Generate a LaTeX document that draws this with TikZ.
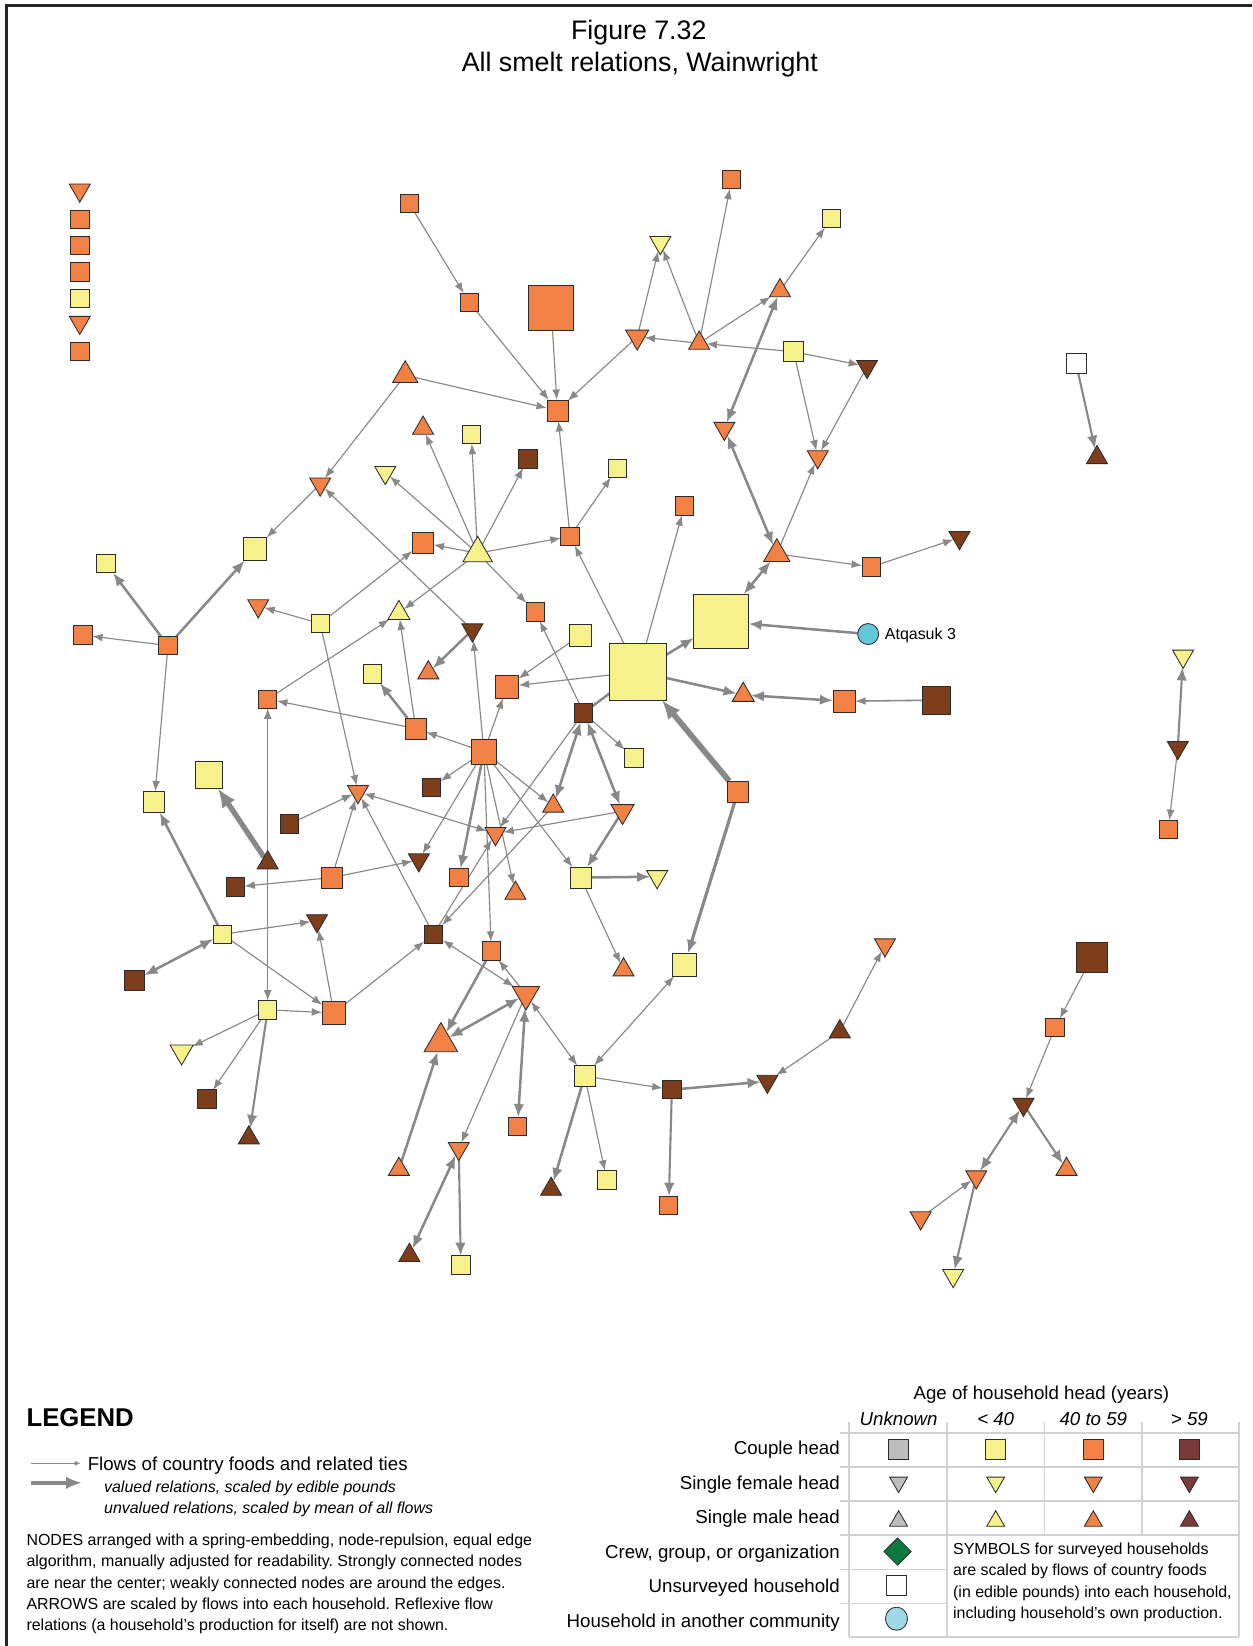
\documentclass[tikz,border=0pt]{standalone}
\usepackage{fontspec}
\setmainfont{Liberation Sans}
\usetikzlibrary{arrows.meta,shapes.geometric,backgrounds}
\frenchspacing

\definecolor{orng}{HTML}{F28145}
\definecolor{ylw}{HTML}{F6F18A}
\definecolor{brwn}{HTML}{7F3E1B}
\definecolor{edgegray}{HTML}{888888}
\definecolor{outline}{HTML}{2B2B2B}
\definecolor{atqblue}{HTML}{62C7D7}
\definecolor{framecol}{HTML}{262626}
\definecolor{gridgray}{HTML}{D2D2D2}
\definecolor{keygray}{HTML}{BDBDBD}
\definecolor{keymaroon}{HTML}{7B3A3A}
\definecolor{keygreen}{HTML}{0E7A3E}
\definecolor{keyblue}{HTML}{9ED8E4}

\newcommand\fsTitle{\fontsize{25.5}{30}\selectfont}
\newcommand\fsBig{\fontsize{17.8}{21}\selectfont}
\newcommand\fsNote{\fontsize{15.2}{18}\selectfont}
\newcommand\fsHead{\fontsize{24.5}{29}\selectfont\bfseries}

\tikzset{
  hh/.style={draw=outline, line width=0.8pt, inner sep=0pt, outer sep=0pt},
  sq/.style={hh, rectangle, minimum size=#1},
  sq/.default=17.5,
  up/.style={hh, regular polygon, regular polygon sides=3,
             minimum size={1.1547*#1}, yshift={-0.1443*#1}},
  up/.default=20,
  dn/.style={hh, regular polygon, regular polygon sides=3, shape border rotate=180,
             minimum size={1.1547*#1}, yshift={0.1443*#1}},
  dn/.default=20,
  flowthin/.style={draw=edgegray, line width=1.1pt, -{Latex[length=10pt,width=7.5pt]}},
  flowthinb/.style={draw=edgegray, line width=1.1pt, {Latex[length=10pt,width=7.5pt]}-{Latex[length=10pt,width=7.5pt]}},
  flowmid/.style={draw=edgegray, line width=2.4pt, -{Latex[length=12.5pt,width=10pt]}},
  flowmidb/.style={draw=edgegray, line width=2.4pt, {Latex[length=12.5pt,width=10pt]}-{Latex[length=12.5pt,width=10pt]}},
  flowheavy/.style={draw=edgegray, line width=5.5pt, -{Latex[length=18pt,width=15pt]}},
  grid/.style={draw=gridgray, line width=1.6pt},
  txt/.style={inner sep=0pt, outer sep=0pt},
  rowlbl/.style={txt, anchor=base east, font=\fsBig},
  colhd/.style={txt, anchor=base, font=\fsBig\itshape},
  notetxt/.style={txt, anchor=base west, font=\fsNote},
}

\begin{document}
\begin{tikzpicture}[x=1pt,y=-1pt]
\useasboundingbox (0,0) rectangle (1193,1568);

% frame
\draw[line width=3pt, framecol] (1193,5) -- (6,5) -- (6,1568);

% title
\node[txt, anchor=base, font=\fsTitle] (ttl1) at (608.5,37.5) {Figure 7.32};
\node[txt, anchor=base, font=\fsTitle] (ttl2) at (609.5,67.7) {All smelt relations, Wainwright};

% isolates
\node[dn, fill=orng] (k1) at (76,184) {};
\node[sq, fill=orng] (k2) at (76,209) {};
\node[sq, fill=orng] (k3) at (76,234) {};
\node[sq, fill=orng] (k4) at (76,259) {};
\node[sq, fill=ylw]  (k5) at (76,284) {};
\node[dn, fill=orng] (k6) at (76,310) {};
\node[sq, fill=orng] (k7) at (76,335) {};

% households
\node[sq, fill=orng] (A) at (390,194) {};
\node[sq, fill=orng] (J) at (697,171) {};
\node[sq, fill=ylw] (L) at (792,208) {};
\node[dn, fill=ylw] (I) at (629,234) {};
\node[up, fill=orng] (K) at (743,274) {};
\node[sq, fill=orng] (B) at (447,288) {};
\node[sq=43, fill=orng] (C) at (525,293) {};
\node[dn=22, fill=orng] (F) at (607,324) {};
\node[up, fill=orng] (H) at (666,324) {};
\node[sq=19, fill=ylw] (M) at (756,335) {};
\node[dn, fill=brwn] (N) at (826,352) {};
\node[up=24, fill=orng] (E) at (386,354) {};
\node[sq=20, fill=orng] (D) at (531,391) {};
\node[up, fill=orng] (AL) at (403,405) {};
\node[sq, fill=ylw] (AM) at (449,414) {};
\node[dn, fill=orng] (P) at (690,411) {};
\node[sq, fill=brwn] (AN) at (503,437) {};
\node[dn, fill=orng] (O) at (779,438) {};
\node[sq, fill=ylw] (AS) at (588,446) {};
\node[dn, fill=ylw] (AO) at (367,453) {};
\node[dn, fill=orng] (AD) at (305,464) {};
\node[sq, fill=orng] (V) at (652,482) {};
\node[sq, fill=orng] (G) at (543,511) {};
\node[sq=20, fill=orng] (AP) at (403,517) {};
\node[up=28, fill=ylw] (AK) at (455,523) {};
\node[sq=22, fill=ylw] (AE) at (243,523) {};
\node[up=25, fill=orng] (Q) at (740,524) {};
\node[dn, fill=brwn] (S) at (914,515) {};
\node[sq, fill=orng] (R) at (830,540) {};
\node[sq, fill=ylw] (AG) at (101,537) {};
\node[dn, fill=orng] (AU) at (246,580) {};
\node[up=21, fill=ylw] (AQ) at (380,581) {};
\node[sq, fill=orng] (AR) at (510,583) {};
\node[sq=52, fill=ylw] (T) at (687,592) {};
\node[sq, fill=ylw] (AT) at (305,594) {};
\node[dn, fill=brwn] (AJ) at (450,603) {};
\node[circle, hh, fill=atqblue, minimum size=20] (Atq) at (827,604) {};
\node[sq, fill=orng] (AH) at (79,605) {};
\node[sq=21, fill=ylw] (DC) at (553,605) {};
\node[sq, fill=orng] (AF) at (160,615) {};
\node[up, fill=orng] (BN) at (408,638) {};
\node[sq=54, fill=ylw] (U) at (608,640) {};
\node[sq, fill=ylw] (AY) at (355,642) {};
\node[sq=22, fill=orng] (Z) at (483,654) {};
\node[up=21, fill=orng] (W) at (708,659) {};
\node[sq, fill=orng] (AW) at (255,666) {};
\node[sq=21, fill=orng] (X) at (804,668) {};
\node[sq=27, fill=brwn] (Y) at (892,667) {};
\node[sq, fill=brwn] (AC) at (556,679) {};
\node[sq=20, fill=orng] (AX) at (396,694) {};
\node[sq=24, fill=orng] (AZ) at (461,716) {};
\node[sq, fill=ylw] (BK) at (604,722) {};
\node[sq=26, fill=ylw] (BS) at (199,738) {};
\node[sq, fill=brwn] (BA) at (411,750) {};
\node[sq=20, fill=orng] (AA) at (703,754) {};
\node[dn, fill=orng] (AV) at (341,757) {};
\node[sq=20, fill=ylw] (AI) at (147,764) {};
\node[up, fill=orng] (BF) at (527,765) {};
\node[dn=22, fill=orng] (BI) at (593,776) {};
\node[sq, fill=brwn] (BP) at (276,785) {};
\node[dn, fill=orng] (BD) at (472,797) {};
\node[up, fill=brwn] (BR) at (255,819) {};
\node[dn, fill=brwn] (BB) at (399,822) {};
\node[sq=20, fill=orng] (BO) at (316,836) {};
\node[sq, fill=orng] (BC) at (437,836) {};
\node[sq=20, fill=ylw] (BG) at (553,836) {};
\node[dn, fill=ylw] (BL) at (626,838) {};
\node[sq, fill=brwn] (BQ) at (224,845) {};
\node[up, fill=orng] (BE) at (491,848) {};
\node[dn, fill=brwn] (BW) at (302,880) {};
\node[sq, fill=ylw] (BU) at (212,890) {};
\node[sq, fill=brwn] (BJ) at (413,890) {};
\node[dn, fill=orng] (CP) at (843,903) {};
\node[sq, fill=orng] (BH) at (468,906) {};
\node[sq=29, fill=brwn] (CV) at (1040,912) {};
\node[sq=22, fill=ylw] (AB) at (652,919) {};
\node[up, fill=orng] (BM) at (594,921) {};
\node[sq=19, fill=brwn] (BV) at (128,934) {};
\node[dn=26, fill=orng] (CB) at (501,951) {};
\node[sq, fill=ylw] (BT) at (255,962) {};
\node[sq=22, fill=orng] (BX) at (318,965) {};
\node[sq, fill=orng] (CW) at (1005,979) {};
\node[up, fill=brwn] (CO) at (800,980) {};
\node[up=32, fill=orng] (CC) at (420,988) {};
\node[dn=22, fill=ylw] (BY) at (173,1005) {};
\node[sq=20, fill=ylw] (CF) at (557,1025) {};
\node[dn, fill=brwn] (CM) at (731,1033) {};
\node[sq, fill=brwn] (CL) at (640,1038) {};
\node[sq, fill=brwn] (BZ) at (197,1047) {};
\node[dn, fill=brwn] (CX) at (975,1055) {};
\node[sq, fill=orng] (CD) at (493,1073) {};
\node[up, fill=brwn] (CA) at (237,1081) {};
\node[dn, fill=orng] (CE) at (437,1097) {};
\node[up, fill=orng] (CG) at (380,1111) {};
\node[up, fill=orng] (CY) at (1016,1111) {};
\node[sq, fill=ylw] (CK) at (578,1124) {};
\node[dn, fill=orng] (CZ) at (930,1124) {};
\node[up, fill=brwn] (CJ) at (525,1130) {};
\node[sq, fill=orng] (CN) at (637,1148) {};
\node[dn, fill=orng] (DA) at (877,1163) {};
\node[up, fill=brwn] (CH) at (390,1193) {};
\node[sq, fill=ylw] (CI) at (439,1205) {};
\node[dn, fill=ylw] (DB) at (908,1218) {};
\node[sq=19, fill=white] (CQ) at (1025,346) {};
\node[up, fill=brwn] (CR) at (1045,433) {};
\node[dn, fill=ylw] (CS) at (1127,628) {};
\node[dn, fill=brwn] (CT) at (1122,715) {};
\node[sq, fill=orng] (CU) at (1113,790) {};

\node[txt, anchor=base west, font=\fsNote] (atqlbl) at (843,609) {Atqasuk 3};

% flows
\begin{pgfonlayer}{background}
\fill[white] (0,0) rectangle (1193,1568);
\draw[flowthin] (A) -- (B);
\draw[flowthin] (B) -- (D);
\draw[flowthin] (C) -- (D);
\draw[flowthin] (F) -- (D);
\draw[flowthin] (E) -- (D);
\draw[flowthin] (G) -- (D);
\draw[flowthin] (H) -- (F);
\draw[flowthin] (H) -- (I);
\draw[flowthin] (F) -- (I);
\draw[flowthin] (H) -- (J);
\draw[flowthin] (H) -- (K);
\draw[flowthin] (K) -- (L);
\draw[flowthin] (M) -- (H);
\draw[flowthin] (M) -- (N);
\draw[flowthin] (M) -- (O);
\draw[flowthin] (N) -- (O);
\draw[flowmidb] (K) -- (P);
\draw[flowmidb] (P) -- (Q);
\draw[flowthin] (Q) -- (O);
\draw[flowthin] (Q) -- (R);
\draw[flowthin] (R) -- (S);
\draw[flowmidb] (T) -- (Q);
\draw[flowmid] (Atq) -- (T);
\draw[flowmid] (U) -- (T);
\draw[flowthin] (U) -- (V);
\draw[flowthin] (U) -- (G);
\draw[flowmid] (U) -- (W);
\draw[flowmidb] (W) -- (X);
\draw[flowthin, line width=1.5pt] (Y) -- (X);
\draw[flowthin] (U) -- (Z);
\draw[flowheavy] (AA) -- (U);
\draw[flowmid, line width=3pt] (AA) -- (AB);
\draw[flowmid, -] (AC) -- (U);
\draw[flowthin] (E) -- (AD);
\draw[flowthin] (AD) -- (AE);
\draw[flowmid] (AF) -- (AE);
\draw[flowmid] (AF) -- (AG);
\draw[flowthin] (AF) -- (AH);
\draw[flowthin] (AF) -- (AI);
\draw[flowthin] (AJ) -- (AD);
\draw[flowthin] (AK) -- (AL);
\draw[flowthin] (AK) -- (AM);
\draw[flowthin] (AK) -- (AN);
\draw[flowthin] (AK) -- (AO);
\draw[flowthin] (AK) -- (AP);
\draw[flowthin] (AK) -- (G);
\draw[flowthin] (AK) -- (AQ);
\draw[flowthin] (AK) -- (AR);
\draw[flowthin] (G) -- (AS);
\draw[flowthin] (AT) -- (AP);
\draw[flowthin] (AT) -- (AU);
\draw[flowthin] (AT) -- (AV);
\draw[flowthin] (AW) -- (AQ);
\draw[flowthin] (AX) -- (AQ);
\draw[flowthin] (AX) -- (AW);
\draw[flowmid] (AX) -- (AY);
\draw[flowthin] (AZ) -- (AX);
\draw[flowthin] (AZ) -- (AJ);
\draw[flowthin] (AZ) -- (Z);
\draw[flowthin] (DC) -- (Z);
\draw[flowthin] (AZ) -- (BA);
\draw[flowthin] (AZ) -- (BB);
\draw[flowmid] (AZ) -- (BC);
\draw[flowthin] (AZ) -- (BE);
\draw[flowthin] (AZ) -- (BF);
\draw[flowthin] (AZ) -- (BG);
\draw[flowthin] (AZ) -- (BH);
\draw[flowthinb] (AV) -- (BD);
\draw[flowthin] (AC) -- (BD);
\draw[flowthin] (BI) -- (BD);
\draw[flowthin] (BJ) -- (BD);
\draw[flowthin] (BF) -- (BJ);
\draw[flowmidb] (AC) -- (BF);
\draw[flowmidb] (AC) -- (BI);
\draw[flowthin] (AC) -- (BK);
\draw[flowthin] (AC) -- (AR);
\draw[flowmid] (BI) -- (BG);
\draw[flowmid] (BG) -- (BL);
\draw[flowthin] (BG) -- (BM);
\draw[flowmid] (AJ) -- (BN);
\draw[flowthin] (BO) -- (AV);
\draw[flowthin] (BJ) -- (AV);
\draw[flowthin] (BP) -- (AV);
\draw[flowthin] (BO) -- (BB);
\draw[flowthin] (BO) -- (BQ);
\draw[flowheavy, line width=5pt] (BR) -- (BS);
\draw[flowthinb] (BT) -- (AW);
\draw[flowmid] (BU) -- (AI);
\draw[flowmidb] (BU) -- (BV);
\draw[flowthin] (BU) -- (BW);
\draw[flowthin] (BU) -- (BX);
\draw[flowthin] (BX) -- (BW);
\draw[flowthin] (BX) -- (BJ);
\draw[flowthin] (BT) -- (BX);
\draw[flowthin] (BT) -- (BY);
\draw[flowthin] (BT) -- (BZ);
\draw[flowmid, line width=2pt] (BT) -- (CA);
\draw[flowthinb] (BJ) -- (CB);
\draw[flowmid] (BH) -- (CC);
\draw[flowthin] (CB) -- (BH);
\draw[flowmidb] (CC) -- (CB);
\draw[flowmidb] (CB) -- (CD);
\draw[flowthin] (CB) -- (CE);
\draw[flowthinb] (CB) -- (CF);
\draw[flowthinb] (AB) -- (CF);
\draw[flowmid] (CG) -- (CC);
\draw[flowmidb] (CE) -- (CH);
\draw[flowmid, line width=2pt] (CE) -- (CI);
\draw[flowmid] (CF) -- (CJ);
\draw[flowthin] (CF) -- (CK);
\draw[flowthin] (CF) -- (CL);
\draw[flowmid] (CL) -- (CM);
\draw[flowmid, line width=2pt] (CL) -- (CN);
\draw[flowthin] (CO) -- (CM);
\draw[flowthin] (CO) -- (CP);
\draw[flowmid, line width=2pt] (CQ) -- (CR);
\draw[flowmid, line width=2pt] (CT) -- (CS);
\draw[flowthin] (CT) -- (CU);
\draw[flowthin] (CV) -- (CW);
\draw[flowthin] (CW) -- (CX);
\draw[flowmid, line width=2pt] (CX) -- (CY);
\draw[flowmidb, line width=2pt] (CX) -- (CZ);
\draw[flowthin] (DA) -- (CZ);
\draw[flowmid, line width=2pt] (CZ) -- (DB);
\end{pgfonlayer}

% ---- legend, left
\node[txt, anchor=base west, font=\fsHead] (lgdhead) at (25.3,1358.8) {LEGEND};
\coordinate (lt1) at (30,1394);
\coordinate (lt2) at (77,1394);
\draw[draw=edgegray, line width=1.4pt, -{Latex[length=6pt,width=5pt]}] (lt1) -- (lt2);
\coordinate (lk1) at (30,1412.5);
\coordinate (lk2) at (78,1412.5);
\draw[draw=edgegray, line width=4pt, -{Latex[length=15pt,width=12pt]}] (lk1) -- (lk2);
\node[txt, anchor=base west, font=\fsBig] (lflow) at (83.6,1400.7) {Flows of country foods and related ties};
\node[notetxt, font=\fsNote\itshape] (lval) at (99.2,1421.3) {valued relations, scaled by edible pounds};
\node[notetxt, font=\fsNote\itshape] (lunv) at (99.2,1441.3) {unvalued relations, scaled by mean of all flows};
\node[notetxt] (p1) at (25.3,1472.3) {NODES arranged with a spring-embedding, node-repulsion, equal edge};
\node[notetxt] (p2) at (25.3,1492.7) {algorithm, manually adjusted for readability. Strongly connected nodes};
\node[notetxt] (p3) at (25.3,1513.1) {are near the center; weakly connected nodes are around the edges.};
\node[notetxt] (p4) at (25.3,1533.4) {ARROWS are scaled by flows into each household. Reflexive flow};
\node[notetxt] (p5) at (25.3,1553.5) {relations (a household’s production for itself) are not shown.};

% ---- legend, symbol table
\draw[grid] (800,1365) -- (1180,1365);
\draw[grid] (800,1397.5) -- (1180,1397.5);
\draw[grid] (800,1430) -- (1180,1430);
\draw[grid] (800,1462.5) -- (1180,1462.5);
\draw[grid] (800,1495) -- (902,1495);
\draw[grid] (800,1527.5) -- (902,1527.5);
\draw[grid] (809,1559.5) -- (1180,1559.5);
\draw[grid] (809,1355) -- (809,1559.5);
\draw[grid] (902,1355) -- (902,1559.5);
\draw[grid] (995,1355) -- (995,1462.5);
\draw[grid] (1088,1355) -- (1088,1462.5);
\draw[grid] (1180,1355) -- (1180,1559.5);

\node[txt, anchor=base, font=\fsBig] (agehd) at (992,1333.3) {Age of household head (years)};
\node[colhd] (c1) at (856,1357.8) {Unknown};
\node[colhd] (c2) at (948.5,1357.8) {< 40};
\node[colhd] (c3) at (1041.5,1357.8) {40 to 59};
\node[colhd] (c4) at (1133,1357.8) {> 59};

\node[rowlbl] (r1) at (800,1385.7) {Couple head};
\node[rowlbl] (r2) at (800,1418.8) {Single female head};
\node[rowlbl] (r3) at (800,1451.5) {Single male head};
\node[rowlbl] (r4) at (800,1484.5) {Crew, group, or organization};
\node[rowlbl] (r5) at (800,1517.2) {Unsurveyed household};
\node[rowlbl] (r6) at (800,1550) {Household in another community};

\node[sq=19, fill=keygray] (s11) at (856,1380.7) {};
\node[sq=19, fill=ylw] (s12) at (948.5,1380.7) {};
\node[sq=19, fill=orng] (s13) at (1041.5,1380.7) {};
\node[sq=19, fill=keymaroon] (s14) at (1133,1380.7) {};
\node[dn=17, fill=keygray] (s21) at (856,1414.5) {};
\node[dn=17, fill=ylw] (s22) at (948.5,1414.5) {};
\node[dn=17, fill=orng] (s23) at (1041.5,1414.5) {};
\node[dn=17, fill=keymaroon] (s24) at (1133,1414.5) {};
\node[up=17, fill=keygray] (s31) at (856,1446.5) {};
\node[up=17, fill=ylw] (s32) at (948.5,1446.5) {};
\node[up=17, fill=orng] (s33) at (1041.5,1446.5) {};
\node[up=17, fill=keymaroon] (s34) at (1133,1446.5) {};
\node[hh, diamond, fill=keygreen, minimum width=26, minimum height=26] (s41) at (855,1478) {};
\node[sq=19, fill=white] (s51) at (854,1510) {};
\node[hh, ellipse, fill=keyblue, minimum width=21, minimum height=22] (s61) at (854,1542) {};

\node[notetxt] (n1) at (908,1480.7) {SYMBOLS for surveyed households};
\node[notetxt] (n2) at (908,1501.1) {are scaled by flows of country foods};
\node[notetxt] (n3) at (908,1521.4) {(in edible pounds) into each household,};
\node[notetxt] (n4) at (908,1541.6) {including household’s own production.};
\end{tikzpicture}
\end{document}
